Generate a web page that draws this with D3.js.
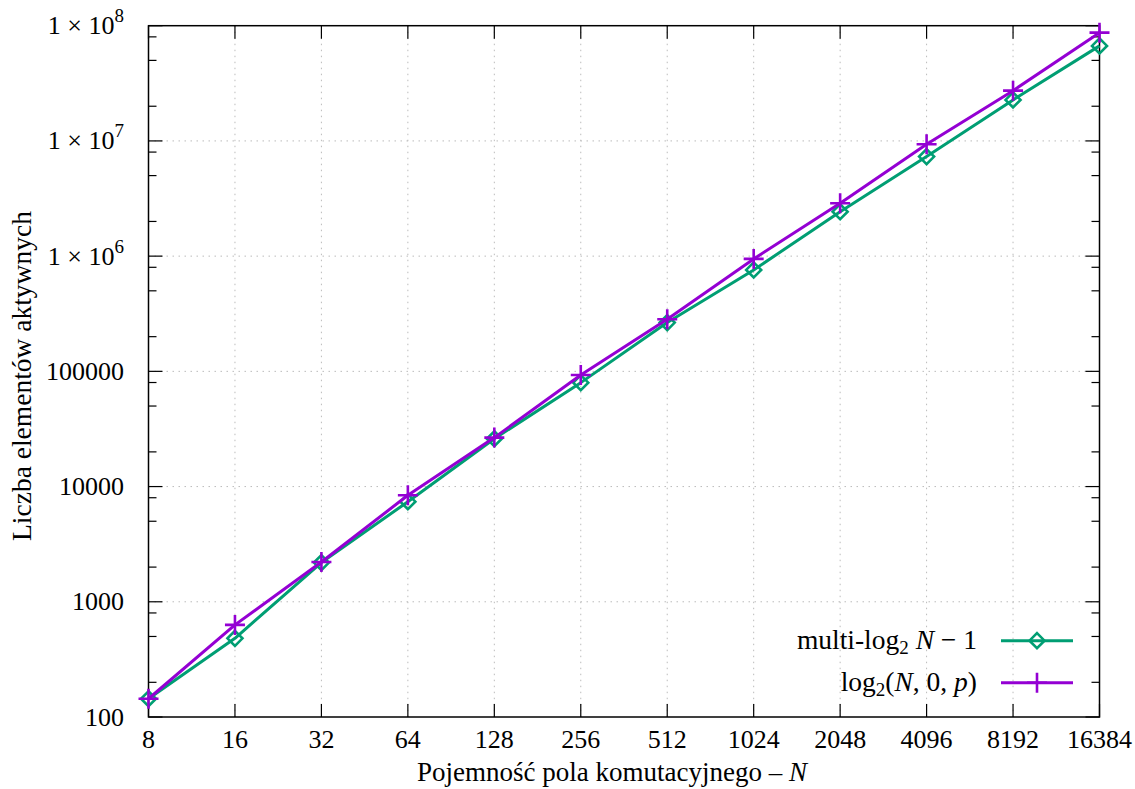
<!DOCTYPE html>
<html>
<head>
<meta charset="utf-8">
<script src="https://cdn.jsdelivr.net/npm/d3@7"></script>
<style>
  html, body { margin: 0; padding: 0; background: #fff; }
  svg { display: block; }
</style>
</head>
<body>
<svg id="chart" width="1135" height="789" font-family="'Liberation Serif', 'DejaVu Serif', serif"></svg>
<script>
// ---- data ----
const capacities = [8, 16, 32, 64, 128, 256, 512, 1024, 2048, 4096, 8192, 16384];
const multiLog = [144, 482, 2190, 7390, 26000, 79800, 265000, 759000, 2430000, 7310000, 22700000, 66800000];
const log2N0p = [144, 630, 2215, 8400, 26600, 93000, 283000, 946000, 2880000, 9350000, 27300000, 87000000];
const yTickValues = [100, 1000, 10000, 100000, 1e6, 1e7, 1e8];
const yTickLabels = ["100", "1000", "10000", "100000", "1 × 10^6", "1 × 10^7", "1 × 10^8"];
const seriesNames = ["multi-log2 N − 1", "log2(N, 0, p)"];

// ---- layout ----
const svg = d3.select("#chart");
const L = 148.5, R = 1099.5, T = 25.7, B = 717;
const x = d3.scaleLog().base(2).domain([8, 16384]).range([L, R]);
const y = d3.scaleLog().domain([100, 1e8]).range([B, T]);
const green = "#009e73", purple = "#9400d3";
const fs = 26;

// grid
const grid = svg.append("g").attr("stroke", "#bbb").attr("stroke-width", 1).attr("stroke-dasharray", "1.5,4.5");
capacities.slice(1, -1).forEach(c => {
  grid.append("line").attr("x1", x(c)).attr("x2", x(c)).attr("y1", T).attr("y2", B);
});
yTickValues.slice(1, -1).forEach(v => {
  grid.append("line").attr("x1", L).attr("x2", R).attr("y1", y(v)).attr("y2", y(v));
});

// ticks
const ticks = svg.append("g").attr("stroke", "#000").attr("stroke-width", 1.2);
capacities.forEach(c => {
  ticks.append("line").attr("x1", x(c)).attr("x2", x(c)).attr("y1", B).attr("y2", B - 13);
  ticks.append("line").attr("x1", x(c)).attr("x2", x(c)).attr("y1", T).attr("y2", T + 13);
});
const minor = [];
for (let e = 2; e < 8; e++) [2, 5, 8].forEach(m => minor.push(m * Math.pow(10, e)));
yTickValues.forEach(v => {
  ticks.append("line").attr("x1", L).attr("x2", L + 14).attr("y1", y(v)).attr("y2", y(v));
  ticks.append("line").attr("x1", R).attr("x2", R - 14).attr("y1", y(v)).attr("y2", y(v));
});
minor.forEach(v => {
  ticks.append("line").attr("x1", L).attr("x2", L + 8).attr("y1", y(v)).attr("y2", y(v));
  ticks.append("line").attr("x1", R).attr("x2", R - 8).attr("y1", y(v)).attr("y2", y(v));
});

// frame
svg.append("rect").attr("x", L).attr("y", T).attr("width", R - L).attr("height", B - T)
  .attr("fill", "none").attr("stroke", "#000").attr("stroke-width", 1.5);

// x tick labels
svg.append("g").selectAll("text").data(capacities).join("text")
  .attr("x", d => x(d)).attr("y", 748).attr("text-anchor", "middle")
  .attr("font-size", fs).text(d => d);

// y tick labels
yTickValues.forEach((v, i) => {
  const lab = yTickLabels[i];
  const t = svg.append("text").attr("x", 124).attr("y", y(v) + 8.5)
    .attr("text-anchor", "end").attr("font-size", fs);
  if (lab.includes("^")) {
    const [base, exp] = lab.split("^");
    t.append("tspan").text(base);
    t.append("tspan").attr("font-size", 19).attr("dy", -12).text(exp);
  } else {
    t.text(lab);
  }
});

// axis titles
const xt = svg.append("text").attr("x", 612).attr("y", 781).attr("text-anchor", "middle").attr("font-size", 27);
xt.append("tspan").text("Pojemność pola komutacyjnego – ");
xt.append("tspan").attr("font-style", "italic").text("N");

svg.append("text").attr("transform", "translate(31,376) rotate(-90)")
  .attr("text-anchor", "middle").attr("font-size", 27.5).text("Liczba elementów aktywnych");

// series
const line = d3.line().x(d => x(d[0])).y(d => y(d[1]));
const diamond = (g, cx, cy, col) => {
  const s = 7.5;
  g.append("path").attr("d", `M${cx},${cy - s}L${cx + s},${cy}L${cx},${cy + s}L${cx - s},${cy}Z`)
    .attr("fill", "none").attr("stroke", col).attr("stroke-width", 2.6);
};
const plus = (g, cx, cy, col) => {
  const s = 10;
  g.append("path").attr("d", `M${cx - s},${cy}H${cx + s}M${cx},${cy - s}V${cy + s}`)
    .attr("fill", "none").attr("stroke", col).attr("stroke-width", 2.6);
};

const gG = svg.append("g");
gG.append("path").datum(capacities.map((c, i) => [c, multiLog[i]])).attr("d", line)
  .attr("fill", "none").attr("stroke", green).attr("stroke-width", 3).attr("stroke-linejoin", "round");
capacities.forEach((c, i) => diamond(gG, x(c), y(multiLog[i]), green));

const gP = svg.append("g");
gP.append("path").datum(capacities.map((c, i) => [c, log2N0p[i]])).attr("d", line)
  .attr("fill", "none").attr("stroke", purple).attr("stroke-width", 3).attr("stroke-linejoin", "round");
capacities.forEach((c, i) => plus(gP, x(c), y(log2N0p[i]), purple));

// legend
const lg = svg.append("g");
const ly1 = 640.7, ly2 = 682.7;
const t1 = lg.append("text").attr("x", 977).attr("y", ly1 + 8.5).attr("text-anchor", "end").attr("font-size", 27.5);
t1.append("tspan").text("multi-log");
t1.append("tspan").attr("font-size", 19).attr("dy", 5).text("2");
t1.append("tspan").attr("dy", -5).text(" ");
t1.append("tspan").attr("font-style", "italic").text("N");
t1.append("tspan").text(" − 1");
const t2 = lg.append("text").attr("x", 977).attr("y", ly2 + 8.5).attr("text-anchor", "end").attr("font-size", 27.5);
t2.append("tspan").text("log");
t2.append("tspan").attr("font-size", 19).attr("dy", 5).text("2");
t2.append("tspan").attr("dy", -5).text("(");
t2.append("tspan").attr("font-style", "italic").text("N");
t2.append("tspan").text(", 0, ");
t2.append("tspan").attr("font-style", "italic").text("p");
t2.append("tspan").text(")");
lg.append("line").attr("x1", 1001).attr("x2", 1073).attr("y1", ly1).attr("y2", ly1).attr("stroke", green).attr("stroke-width", 3);
diamond(lg, 1037, ly1, green);
lg.append("line").attr("x1", 1001).attr("x2", 1073).attr("y1", ly2).attr("y2", ly2).attr("stroke", purple).attr("stroke-width", 3);
plus(lg, 1037, ly2, purple);
</script>
</body>
</html>
